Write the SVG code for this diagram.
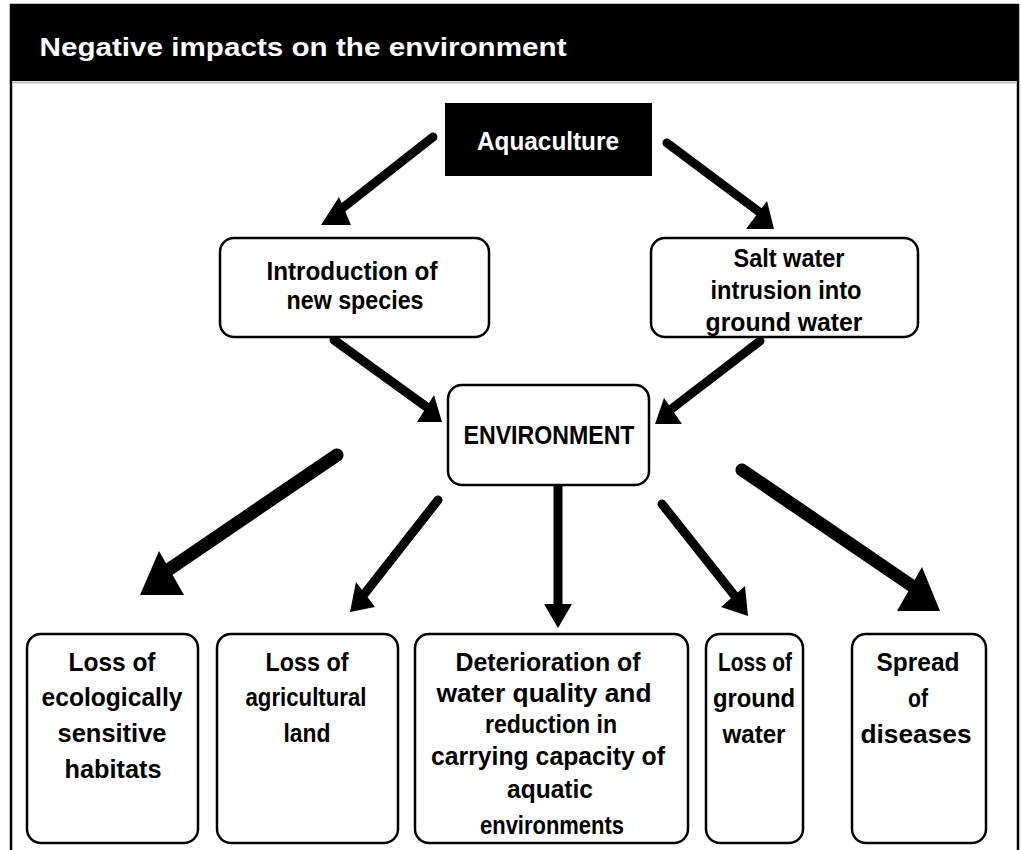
<svg xmlns="http://www.w3.org/2000/svg" width="1021" height="850" viewBox="0 0 1021 850">
<style>
.t{font-family:"Liberation Sans Narrow","Liberation Sans",Arial,sans-serif;font-weight:bold;font-size:26px;fill:#000;text-anchor:middle}
.w{fill:#fff}
.box{fill:#fff;stroke:#000;stroke-width:2.5}
.ln{stroke:#000;stroke-width:9;stroke-linecap:round;fill:none}
.big{stroke-width:13}
.hd{fill:#000}
</style>
<rect x="0" y="0" width="1021" height="850" fill="#fff"/>
<g id="frame">
<path d="M11,850 V5 H1018 V850" fill="none" stroke="#000" stroke-width="2.5"/>
<rect x="11" y="6" width="1007" height="75" fill="#000"/>
<line x1="12" y1="82.5" x2="1017" y2="82.5" stroke="#bbb" stroke-width="2"/>
<text class="t w" x="303" y="56" font-size="33" textLength="527" lengthAdjust="spacingAndGlyphs">Negative impacts on the environment</text>
</g>
<g id="connectors">
<line class="ln" x1="433" y1="137" x2="340" y2="210"/>
<polygon class="hd" points="321,225 351,225 339,197"/>
<line class="ln" x1="667" y1="143" x2="762" y2="214"/>
<polygon class="hd" points="746,229 774,229 767,201"/>
<line class="ln" x1="334" y1="340" x2="428" y2="408"/>
<polygon class="hd" points="417,422 442,422 434,395"/>
<line class="ln" x1="760" y1="341" x2="670" y2="410"/>
<polygon class="hd" points="655,424 682,424 664,398"/>
<line class="ln big" x1="337" y1="455" x2="162" y2="574"/>
<polygon class="hd" points="140,595 184,595 159,551"/>
<line class="ln" x1="438" y1="500" x2="362" y2="597"/>
<polygon class="hd" points="350,612 375,607 356,582"/>
<line class="ln" x1="558" y1="486" x2="558" y2="608" stroke-width="7"/>
<polygon class="hd" points="544,604 572,604 558,628"/>
<line class="ln" x1="662" y1="504" x2="738" y2="600"/>
<polygon class="hd" points="721,607 748,616 745,586"/>
<line class="ln big" x1="742" y1="470" x2="918" y2="590"/>
<polygon class="hd" points="897,611 940,611 922,567"/>
</g>
<g id="aquaculture">
<rect x="445" y="103" width="207" height="73" fill="#000"/>
<text class="t w" x="548" y="150" textLength="142" lengthAdjust="spacingAndGlyphs">Aquaculture</text>
</g>
<g id="introduction">
<rect class="box" x="220" y="238" width="269" height="99" rx="14"/>
<text class="t" x="352" y="280" textLength="171" lengthAdjust="spacingAndGlyphs">Introduction of</text>
<text class="t" x="355" y="309" textLength="137" lengthAdjust="spacingAndGlyphs">new species</text>
</g>
<g id="saltwater">
<rect class="box" x="651" y="238" width="267" height="99" rx="14"/>
<text class="t" x="789" y="267" textLength="111" lengthAdjust="spacingAndGlyphs">Salt water</text>
<text class="t" x="786" y="299" textLength="151" lengthAdjust="spacingAndGlyphs">intrusion into</text>
<text class="t" x="784" y="331" textLength="157" lengthAdjust="spacingAndGlyphs">ground water</text>
</g>
<g id="environment">
<rect class="box" x="448" y="385" width="201" height="100" rx="14"/>
<text class="t" x="549" y="444" font-size="27" textLength="171" lengthAdjust="spacingAndGlyphs">ENVIRONMENT</text>
</g>
<g id="loss-habitats">
<rect class="box" x="27" y="634" width="171" height="209" rx="14"/>
<text class="t" x="112" y="671" textLength="87" lengthAdjust="spacingAndGlyphs">Loss of</text>
<text class="t" x="112" y="706" textLength="141" lengthAdjust="spacingAndGlyphs">ecologically</text>
<text class="t" x="112" y="742" textLength="109" lengthAdjust="spacingAndGlyphs">sensitive</text>
<text class="t" x="113" y="778" textLength="97" lengthAdjust="spacingAndGlyphs">habitats</text>
</g>
<g id="loss-agricultural">
<rect class="box" x="217" y="634" width="181" height="209" rx="14"/>
<text class="t" x="307" y="671" textLength="83" lengthAdjust="spacingAndGlyphs">Loss of</text>
<text class="t" x="306" y="706" textLength="121" lengthAdjust="spacingAndGlyphs">agricultural</text>
<text class="t" x="307" y="742" textLength="47" lengthAdjust="spacingAndGlyphs">land</text>
</g>
<g id="deterioration">
<rect class="box" x="415" y="634" width="273" height="209" rx="14"/>
<text class="t" x="548" y="671" textLength="185" lengthAdjust="spacingAndGlyphs">Deterioration of</text>
<text class="t" x="544" y="702" textLength="215" lengthAdjust="spacingAndGlyphs">water quality and</text>
<text class="t" x="551" y="733" textLength="132" lengthAdjust="spacingAndGlyphs">reduction in</text>
<text class="t" x="548" y="765" textLength="234" lengthAdjust="spacingAndGlyphs">carrying capacity of</text>
<text class="t" x="550" y="798" textLength="86" lengthAdjust="spacingAndGlyphs">aquatic</text>
<text class="t" x="552" y="834" textLength="144" lengthAdjust="spacingAndGlyphs">environments</text>
</g>
<g id="loss-groundwater">
<rect class="box" x="706" y="634" width="97" height="209" rx="14"/>
<text class="t" x="755" y="671" textLength="74" lengthAdjust="spacingAndGlyphs">Loss of</text>
<text class="t" x="754" y="707" textLength="82" lengthAdjust="spacingAndGlyphs">ground</text>
<text class="t" x="754" y="743" textLength="63" lengthAdjust="spacingAndGlyphs">water</text>
</g>
<g id="spread-diseases">
<rect class="box" x="852" y="634" width="134" height="209" rx="14"/>
<text class="t" x="918" y="671" textLength="83" lengthAdjust="spacingAndGlyphs">Spread</text>
<text class="t" x="918" y="707" textLength="20" lengthAdjust="spacingAndGlyphs">of</text>
<text class="t" x="916" y="743" textLength="111" lengthAdjust="spacingAndGlyphs">diseases</text>
</g>
</svg>
